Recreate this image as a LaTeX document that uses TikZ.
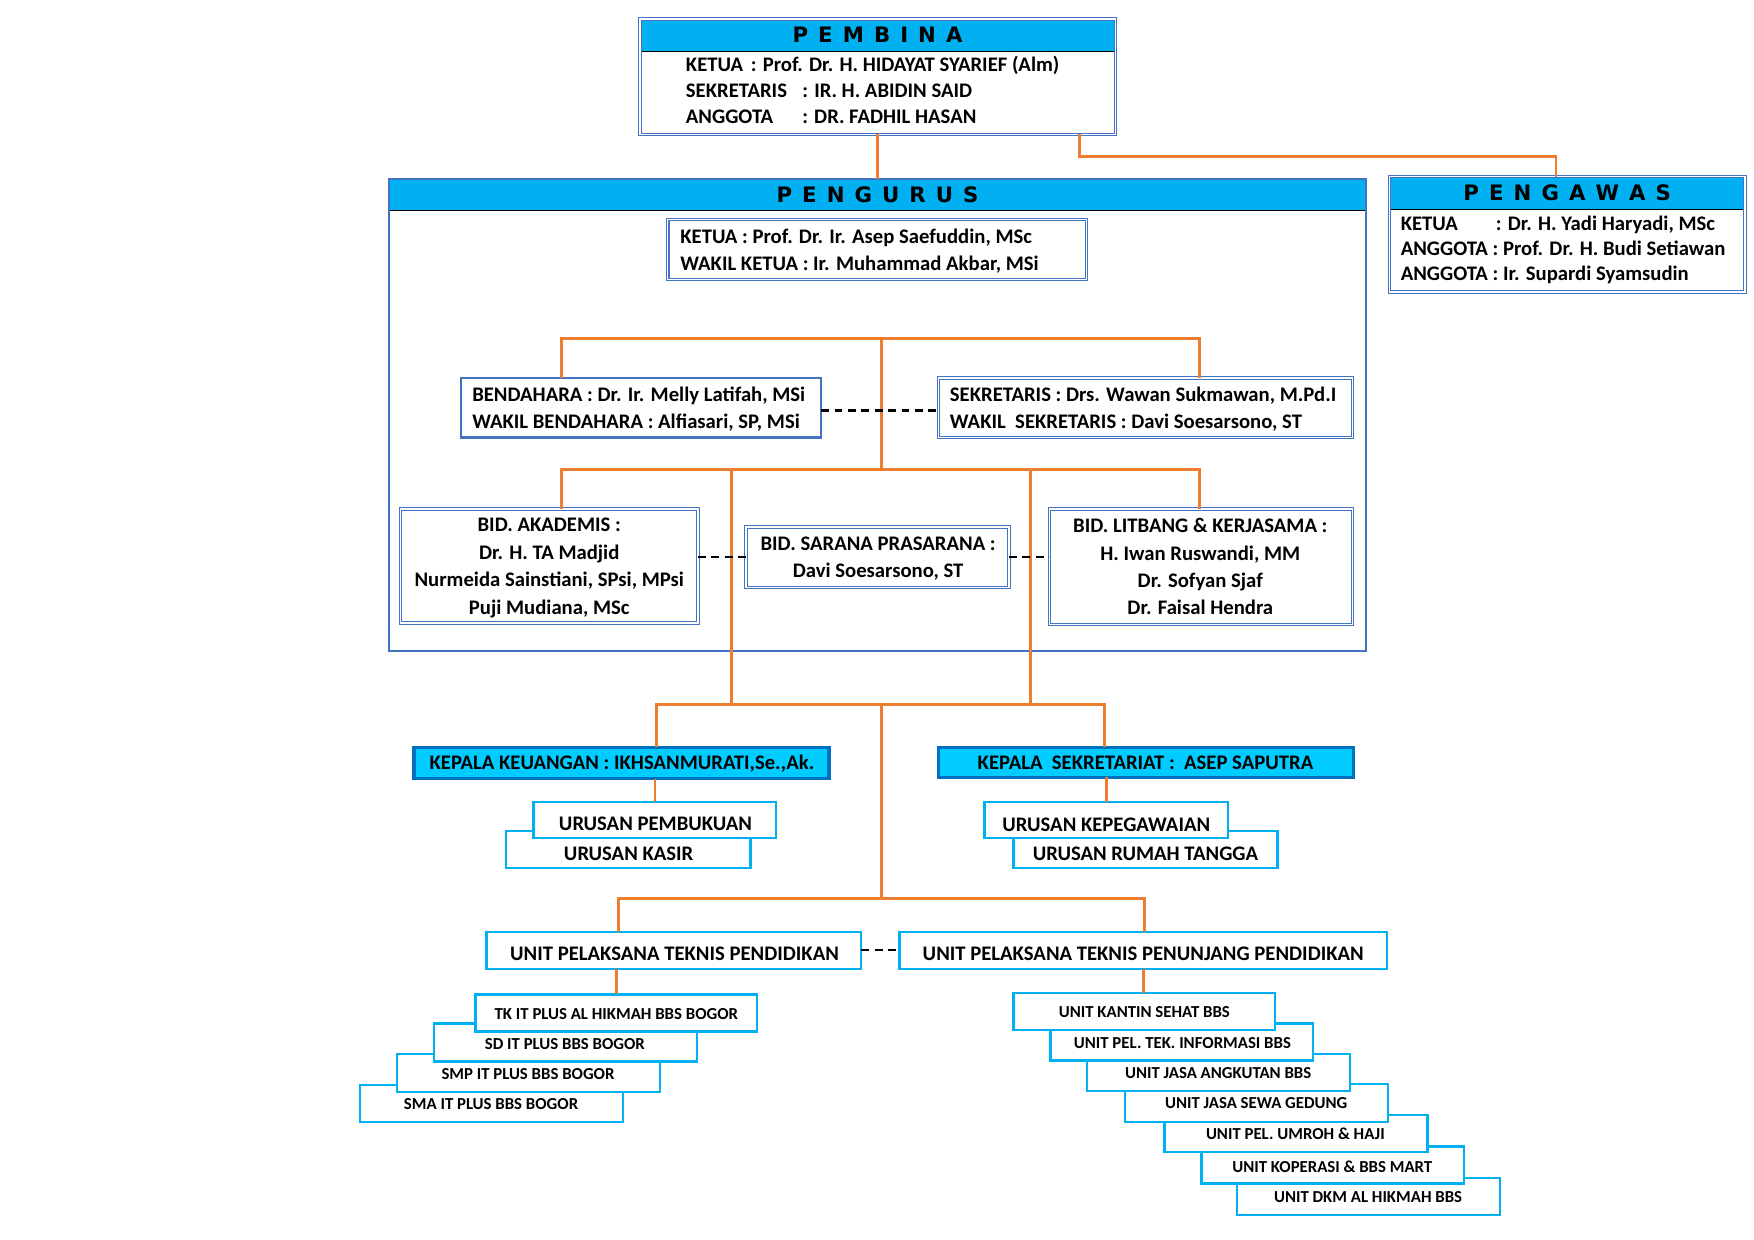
\documentclass[tikz,border=0pt]{standalone}
\usepackage{fontspec}
\setmainfont{Carlito}
\newfontfamily\ttlfont{DejaVu Sans}
\usetikzlibrary{calc}
\definecolor{hdrcyan}{RGB}{0,176,240}
\definecolor{bblue}{RGB}{68,114,196}
\definecolor{orng}{RGB}{237,125,49}
\definecolor{kfill}{RGB}{0,204,255}
\definecolor{kdraw}{RGB}{0,112,192}
\newcommand\sptitle[1]{{\spaceskip=9pt\relax #1}}
\begin{document}
\begin{tikzpicture}[x=1pt,y=-1pt,
  sz/.style 2 args={minimum width=#1pt,minimum height=#2pt},
  bx/.style={rectangle,inner sep=0pt,outer sep=0pt,anchor=north west},
  wf/.style={fill=white},
  sgl/.style={bx,draw=bblue,line width=2pt},
  dbl/.style={bx,draw=bblue,line width=0.9pt,double=white,double distance=1.2pt},
  cy/.style={bx,draw=hdrcyan,line width=2pt},
  kep/.style={bx,draw=kdraw,line width=3pt,fill=kfill},
  hdr/.style={bx,fill=hdrcyan,font=\ttlfont\bfseries\fontsize{19}{21}\selectfont},
  tx/.style={inner sep=0pt,font=\bfseries\fontsize{18.5}{22}\selectfont},
  txs/.style={inner sep=0pt,font=\bfseries\fontsize{15}{18}\selectfont},
  con/.style={draw=orng,line width=2.6pt},
  dsh/.style={draw=black,line width=2pt,dash pattern=on 7pt off 5pt},
]
\useasboundingbox (0,0) rectangle (1568,1108.5);

% ---------- PEMBINA ----------
\node[hdr,sz={425}{29}] (pembinaH) at (572,17) {\sptitle{P E M B I N A}};
\draw[line width=1pt] (pembinaH.south west) -- (pembinaH.south east);
\node[dbl,sz={425}{103}] (pembina) at (572,17) {};
\node[tx,anchor=base west] (pb1) at (613,64) {\makebox[58pt][l]{KETUA}: Prof. Dr. H. HIDAYAT SYARIEF (Alm)};
\node[tx,anchor=base west] (pb2) at (613,87) {\makebox[104pt][l]{SEKRETARIS}: IR. H. ABIDIN SAID};
\node[tx,anchor=base west] (pb3) at (613,110) {\makebox[104pt][l]{ANGGOTA}: DR. FADHIL HASAN};

% ---------- PENGAWAS ----------
\node[hdr,sz={318}{29}] (pengawasH) at (1242,158) {\sptitle{P E N G A W A S}};
\draw[line width=1pt] (pengawasH.south west) -- (pengawasH.south east);
\node[dbl,sz={318}{103}] (pengawas) at (1242,158) {};
\node[tx,anchor=base west] (pw1) at (1252,206) {\makebox[85pt][l]{KETUA}: Dr. H. Yadi Haryadi, MSc};
\node[tx,anchor=base west] (pw2) at (1252,228) {ANGGOTA : Prof. Dr. H. Budi Setiawan};
\node[tx,anchor=base west] (pw3) at (1252,251) {ANGGOTA : Ir. Supardi Syamsudin};

% ---------- PENGURUS ----------
\node[hdr,sz={873}{28}] (pengurusH) at (348,160) {\sptitle{P E N G U R U S}};
\draw[line width=1pt] (pengurusH.south west) -- (pengurusH.south east);
\node[sgl,sz={873}{422}] (pengurus) at (348,160) {};

\node[dbl,sz={374}{54}] (ketua) at (597,196) {};
\node[tx,anchor=base west] (kt1) at (608,218) {KETUA : Prof. Dr. Ir. Asep Saefuddin, MSc};
\node[tx,anchor=base west] (kt2) at (608,242) {WAKIL KETUA : Ir. Muhammad Akbar, MSi};

\node[sgl,sz={322}{53}] (bend) at (412,338) {};
\node[tx,anchor=base west] (bd1) at (422,359) {BENDAHARA : Dr. Ir. Melly Latifah, MSi};
\node[tx,anchor=base west] (bd2) at (422,383) {WAKIL BENDAHARA : Alfiasari, SP, MSi};

\node[dbl,sz={370}{53}] (sekr) at (839,338) {};
\node[tx,anchor=base west] (sk1) at (849,359) {SEKRETARIS : Drs. Wawan Sukmawan, M.Pd.I};
\node[tx,anchor=base west] (sk2) at (849,383) {WAKIL\ \ SEKRETARIS : Davi Soesarsono, ST};

\node[dbl,sz={266}{102}] (akad) at (358,455) {};
\node[tx,anchor=base] (ak1) at (491,475) {BID. AKADEMIS :};
\node[tx,anchor=base] (ak2) at (491,500) {Dr. H. TA Madjid};
\node[tx,anchor=base] (ak3) at (491,524) {Nurmeida Sainstiani, SPsi, MPsi};
\node[tx,anchor=base] (ak4) at (491,549) {Puji Mudiana, MSc};

\node[dbl,sz={235}{54}] (sarana) at (667,471) {};
\node[tx,anchor=base] (sr1) at (785,492) {BID. SARANA PRASARANA :};
\node[tx,anchor=base] (sr2) at (785,516) {Davi Soesarsono, ST};

\node[dbl,sz={271}{103}] (litb) at (938,455) {};
\node[tx,anchor=base] (lt1) at (1073,476) {BID. LITBANG \& KERJASAMA :};
\node[tx,anchor=base] (lt2) at (1073,501) {H. Iwan Ruswandi, MM};
\node[tx,anchor=base] (lt3) at (1073,525) {Dr. Sofyan Sjaf};
\node[tx,anchor=base] (lt4) at (1073,549) {Dr. Faisal Hendra};

% ---------- KEPALA ----------
\node[kep,sz={371}{28}] (keu) at (370,668) {};
\node[tx,anchor=base] (keuT) at (556,688) {KEPALA KEUANGAN : IKHSANMURATI,Se.,Ak.};
\node[kep,sz={371}{27}] (sekt) at (839,668) {};
\node[tx,anchor=base] (sektT) at (1024,688) {KEPALA\ \ SEKRETARIAT :\ \ ASEP SAPUTRA};

% ---------- URUSAN ----------
\node[cy,wf,sz={219}{33}] (kasir) at (452,743) {};
\node[cy,wf,sz={217}{32}] (pemb) at (477,717) {};
\node[tx,anchor=base] (pembT) at (586,742) {URUSAN PEMBUKUAN};
\node[tx,anchor=base] (kasirT) at (562,769) {URUSAN KASIR};

\node[cy,wf,sz={236}{33}] (rumah) at (906,743) {};
\node[cy,wf,sz={218}{32}] (kepeg) at (880,717) {};
\node[tx,anchor=base] (kepegT) at (989,743) {URUSAN KEPEGAWAIAN};
\node[tx,anchor=base] (rumahT) at (1024,769) {URUSAN RUMAH TANGGA};

% ---------- UPT ----------
\node[cy,sz={335}{33}] (upt1) at (435,833) {};
\node[tx,anchor=base] (upt1T) at (603,859) {UNIT PELAKSANA TEKNIS PENDIDIKAN};
\node[cy,sz={436}{33}] (upt2) at (804,833) {};
\node[tx,anchor=base] (upt2T) at (1022,859) {UNIT PELAKSANA TEKNIS PENUNJANG PENDIDIKAN};

% ---------- SCHOOLS ----------
\node[cy,wf,sz={235}{33}] (sma) at (322,970) {};
\node[cy,wf,sz={235}{34}] (smp) at (355,942) {};
\node[cy,wf,sz={235}{34}] (sd) at (388,915) {};
\node[cy,wf,sz={252}{33}] (tk) at (425,889) {};
\node[txs,anchor=base] (tkT) at (551,911) {TK IT PLUS AL HIKMAH BBS BOGOR};
\node[txs,anchor=base] (sdT) at (505,938) {SD IT PLUS BBS BOGOR};
\node[txs,anchor=base] (smpT) at (472,965) {SMP IT PLUS BBS BOGOR};
\node[txs,anchor=base] (smaT) at (439,992) {SMA IT PLUS BBS BOGOR};

% ---------- UNITS ----------
\node[cy,wf,sz={235}{33}] (dkm) at (1106,1053) {};
\node[cy,wf,sz={235}{33}] (kop) at (1074,1025) {};
\node[cy,wf,sz={235}{33}] (umroh) at (1041,997) {};
\node[cy,wf,sz={235}{34}] (sewa) at (1006,969) {};
\node[cy,wf,sz={235}{33}] (angk) at (972,942) {};
\node[cy,wf,sz={235}{33}] (peltek) at (939,915) {};
\node[cy,wf,sz={234}{33}] (kantin) at (906,888) {};
\node[txs,anchor=base] (kantinT) at (1023,910) {UNIT KANTIN SEHAT BBS};
\node[txs,anchor=base] (peltekT) at (1057,937) {UNIT PEL. TEK. INFORMASI BBS};
\node[txs,anchor=base] (angkT) at (1089,964) {UNIT JASA ANGKUTAN BBS};
\node[txs,anchor=base] (sewaT) at (1123,991) {UNIT JASA SEWA GEDUNG};
\node[txs,anchor=base] (umrohT) at (1158,1019) {UNIT PEL. UMROH \& HAJI};
\node[txs,anchor=base] (kopT) at (1191,1048) {UNIT KOPERASI \& BBS MART};
\node[txs,anchor=base] (dkmT) at (1223,1075) {UNIT DKM AL HIKMAH BBS};

% ---------- CONNECTORS ----------
\coordinate (p2) at (965,140);
\coordinate (j1) at (788,303);
\coordinate (j1L) at (502,303);
\coordinate (j1R) at (1072,303);
\coordinate (j2) at (788,420);
\coordinate (j2L) at (502,420);
\coordinate (j2R) at (1072,420);
\coordinate (j2a) at (654,420);
\coordinate (j2b) at (921,420);
\coordinate (j3) at (788,630);
\coordinate (j3L) at (587,630);
\coordinate (j3R) at (987,630);
\coordinate (j3a) at (654,630);
\coordinate (j3b) at (921,630);
\coordinate (j4) at (788,803);
\coordinate (j4L) at (553,803);
\coordinate (j4R) at (1023,803);

\draw[con] (pembina.south) -- (pembina.south |- pengurusH.north);
\draw[con] (pembina.south -| p2) -- (p2) -| ([xshift=-10pt]pengawas.north);

\draw[con] (j1L |- bend.north) -- (j1L) -- (j1R) -- (j1R |- sekr.north);
\draw[con] (j1) -- (j2);
\draw[con] (j2L |- akad.north) -- (j2L) -- (j2R) -- (j2R |- litb.north);
\draw[con] (j2a) -- (j3a);
\draw[con] (j2b) -- (j3b);
\draw[con] (j3L |- keu.north) -- (j3L) -- (j3R) -- (j3R |- sekt.north);
\draw[con] (j3) -- (j4);
\draw[con] (keu.south -| pemb.north) -- (pemb.north);
\draw[con] (sekt.south -| kepeg.north) -- (kepeg.north);
\draw[con] (j4L |- upt1.north) -- (j4L) -- (j4R) -- (j4R |- upt2.north);
\draw[con] (upt1.south -| tk.north) -- (tk.north);
\draw[con] (upt2.south) -- (upt2.south |- kantin.north);

\draw[dsh] ([yshift=-2.5pt]bend.east) -- ([yshift=-2.5pt]sekr.west);
\draw[dsh] (sarana.west -| akad.east) -- (sarana.west);
\draw[dsh] (sarana.east) -- (sarana.east -| litb.west);
\draw[dsh] (upt1.east) -- (upt2.west);
\end{tikzpicture}
\end{document}
